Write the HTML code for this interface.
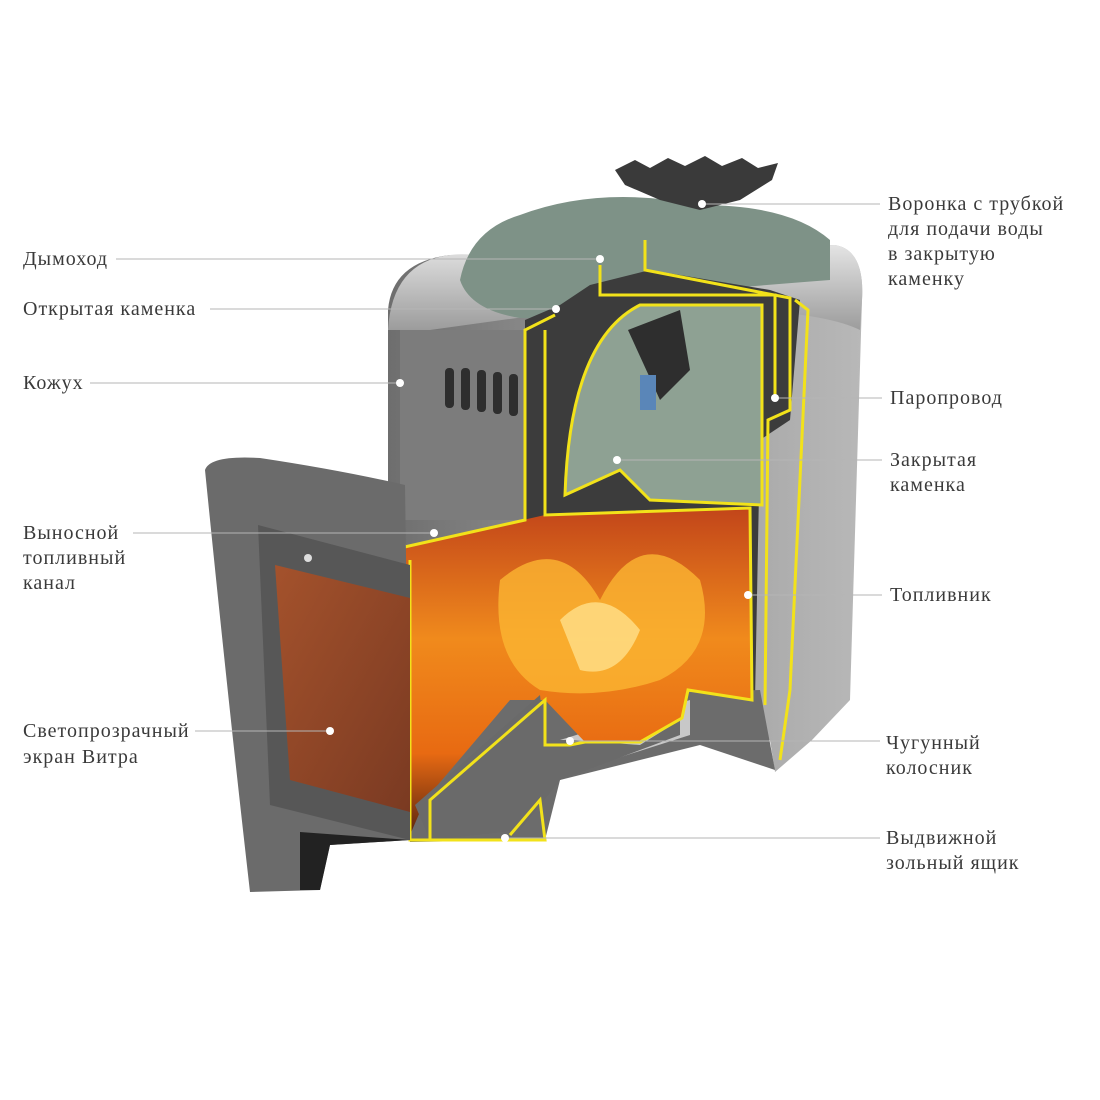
<!DOCTYPE html>
<html><head><meta charset="utf-8"><style>
html,body{margin:0;padding:0;background:#fff;width:1100px;height:1100px;overflow:hidden}
svg{display:block}
text{font-family:"Liberation Serif",serif;font-size:20px;letter-spacing:1px;fill:#3a3a3a}
</style></head><body>
<svg width="1100" height="1100" viewBox="0 0 1100 1100">
<defs>
<linearGradient id="fire" x1="0" y1="0" x2="0" y2="1">
<stop offset="0" stop-color="#c2451a"/><stop offset="0.4" stop-color="#f08a1c"/><stop offset="0.75" stop-color="#e86a12"/><stop offset="1" stop-color="#5a2410"/></linearGradient>
<linearGradient id="glass" x1="0" y1="0" x2="1" y2="1">
<stop offset="0" stop-color="#a4522c"/><stop offset="1" stop-color="#7a3a22"/></linearGradient>
<linearGradient id="body" x1="0" y1="0" x2="1" y2="0">
<stop offset="0" stop-color="#6e6e6e"/><stop offset="0.5" stop-color="#9a9a9a"/><stop offset="1" stop-color="#b8b8b8"/></linearGradient>
<linearGradient id="cap" x1="0" y1="0" x2="0" y2="1">
<stop offset="0" stop-color="#e4e4e4"/><stop offset="1" stop-color="#9c9c9c"/></linearGradient>
</defs>
<!-- body -->
<path d="M388,310 Q392,262 450,255 L835,245 Q865,250 862,300 L850,700 L812,740 L775,772 L770,740 L545,700 L388,525 Z" fill="url(#body)"/>
<path d="M388,330 Q392,262 450,255 L835,245 Q865,250 862,300 L860,330 Q800,300 560,312 L430,330 Z" fill="url(#cap)"/>
<!-- left housing -->
<rect x="400" y="330" width="125" height="190" fill="#7c7c7c"/>
<g fill="#2e2e2e"><rect x="445" y="368" width="9" height="40" rx="4"/><rect x="461" y="368" width="9" height="42" rx="4"/><rect x="477" y="370" width="9" height="42" rx="4"/><rect x="493" y="372" width="9" height="42" rx="4"/><rect x="509" y="374" width="9" height="42" rx="4"/></g>
<!-- stones open -->
<path d="M460,280 Q470,230 520,215 Q600,185 700,205 Q790,205 830,240 L830,280 Q700,290 600,300 Q560,320 520,318 Q470,310 460,280 Z" fill="#7e9287"/>
<!-- cut section dark interior -->
<path d="M525,320 L560,305 L590,285 L650,270 L770,290 L800,300 L790,420 L760,440 L755,700 L700,700 L545,520 L525,520 Z" fill="#3c3c3c"/>
<path d="M565,495 Q570,340 640,305 L762,305 L762,505 L650,500 L620,470 Z" fill="#8ea193"/>
<path d="M628,330 L680,310 L690,370 L660,400 Z" fill="#2e2e2e"/>
<rect x="640" y="375" width="16" height="35" fill="#5a86b8"/>
<!-- lower base fill -->
<path d="M410,700 L760,690 L775,770 L700,745 L560,780 L545,840 L410,842 Z" fill="#6c6c6c"/>
<path d="M560,740 L690,700 L690,735 L580,770 Z" fill="#c8c8c8"/>
<!-- fire -->
<path d="M400,548 L545,515 L750,508 L752,700 L688,690 L682,718 L640,742 L585,742 L545,700 L510,700 L425,800 L410,835 Z" fill="url(#fire)"/>
<path d="M500,580 Q560,530 600,600 Q640,520 700,580 Q720,650 660,680 Q600,700 540,690 Q490,660 500,580 Z" fill="#fbb532" opacity="0.8"/>
<path d="M560,620 Q600,580 640,630 Q620,680 580,670 Z" fill="#ffe08a" opacity="0.8"/>
<!-- ash drawer -->
<path d="M415,805 L540,695 L545,740 L575,740 L640,745 L680,720 L680,735 L560,780 L520,830 L430,840 Z" fill="#6a6a6a"/>
<!-- yellow outlines -->
<g fill="none" stroke="#f2e21a" stroke-width="3">
<path d="M555,315 L525,330 L525,520 L400,548"/>
<path d="M545,330 L545,515 L750,508 L752,700 L688,690 L682,718 L640,742 L585,742 L570,745 L545,745 L545,700 L430,800 L430,840"/>
<path d="M565,495 Q570,340 640,305 L762,305 L762,505 L650,500 L620,470 Z"/>
<path d="M600,265 L600,295 L775,295 L775,398"/>
<path d="M645,240 L645,270 L790,298 L790,410 L768,420 L765,705"/>
<path d="M795,300 L808,310 L790,690 L780,760"/>
<path d="M410,560 L410,840 L545,840 L540,800 L510,835"/>
</g>
<!-- funnel -->
<path d="M615,170 L635,160 L650,168 L668,158 L685,166 L705,156 L722,166 L742,158 L758,168 L778,163 L772,180 L740,200 L700,210 L660,200 L625,185 Z" fill="#3a3a3a"/>
<!-- door -->
<path d="M205,470 Q210,455 260,458 Q340,470 405,485 L410,840 L330,845 L320,890 L250,892 Q228,700 205,470 Z" fill="#6b6b6b"/>
<path d="M258,525 L410,565 L410,840 L270,805 Z" fill="#575757"/>
<path d="M275,565 L410,598 L410,812 L290,780 Z" fill="url(#glass)"/>
<path d="M300,832 L410,840 L330,845 L320,890 L300,890 Z" fill="#222"/>
<circle cx="308" cy="558" r="4" fill="#ddd"/>
<!-- leader lines -->
<g stroke="#b5b5b5" stroke-width="1">
<line x1="116" y1="259" x2="600" y2="259"/><line x1="210" y1="309" x2="556" y2="309"/>
<line x1="90" y1="383" x2="400" y2="383"/><line x1="133" y1="533" x2="434" y2="533"/>
<line x1="195" y1="731" x2="330" y2="731"/><line x1="700" y1="204" x2="880" y2="204"/>
<line x1="775" y1="398" x2="882" y2="398"/><line x1="617" y1="460" x2="882" y2="460"/>
<line x1="748" y1="595" x2="882" y2="595"/><line x1="570" y1="741" x2="880" y2="741"/>
<line x1="505" y1="838" x2="880" y2="838"/></g>
<g fill="#fff"><circle cx="600" cy="259" r="4"/><circle cx="556" cy="309" r="4"/><circle cx="400" cy="383" r="4"/><circle cx="434" cy="533" r="4"/><circle cx="330" cy="731" r="4"/><circle cx="702" cy="204" r="4"/><circle cx="775" cy="398" r="4"/><circle cx="617" cy="460" r="4"/><circle cx="748" cy="595" r="4"/><circle cx="570" cy="741" r="4"/><circle cx="505" cy="838" r="4"/></g>
<!-- labels -->
<text x="23" y="265">Дымоход</text>
<text x="23" y="315">Открытая каменка</text>
<text x="23" y="389">Кожух</text>
<text x="23" y="539">Выносной</text><text x="23" y="564">топливный</text><text x="23" y="589">канал</text>
<text x="23" y="737">Светопрозрачный</text><text x="23" y="763">экран Витра</text>
<text x="888" y="210">Воронка с трубкой</text><text x="888" y="235">для подачи воды</text><text x="888" y="260">в закрытую</text><text x="888" y="285">каменку</text>
<text x="890" y="404">Паропровод</text>
<text x="890" y="466">Закрытая</text><text x="890" y="491">каменка</text>
<text x="890" y="601">Топливник</text>
<text x="886" y="749">Чугунный</text><text x="886" y="774">колосник</text>
<text x="886" y="844">Выдвижной</text><text x="886" y="869">зольный ящик</text>
</svg>
</body></html>
